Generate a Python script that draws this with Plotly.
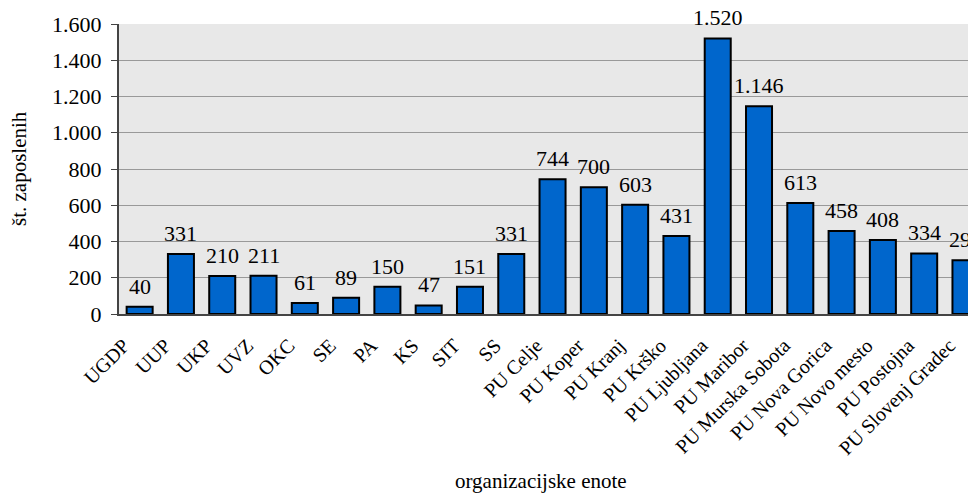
import plotly.graph_objects as go

categories = ["UGDP", "UUP", "UKP", "UVZ", "OKC", "SE", "PA", "KS", "SIT", "SS",
              "PU Celje", "PU Koper", "PU Kranj", "PU Krško", "PU Ljubljana",
              "PU Maribor", "PU Murska Sobota", "PU Nova Gorica", "PU Novo mesto",
              "PU Postojna", "PU Slovenj Gradec"]
values = [40, 331, 210, 211, 61, 89, 150, 47, 151, 331,
          744, 700, 603, 431, 1520, 1146, 613, 458, 408, 334, 296]
y_ticks = [0, 200, 400, 600, 800, 1000, 1200, 1400, 1600]
x_title = "organizacijske enote"
y_title = "št. zaposlenih"

FONT = "Liberation Serif"

# page body has an 8px margin, so the figure is drawn 8px right/down
W, H = 968, 485
L, T, B = 111, 16, 179
PW = W - L
PH = H - T - B


def fmt(v):
    return f"{v:,}".replace(",", ".")


fig = go.Figure()
fig.add_trace(go.Bar(
    x=categories, y=values,
    marker=dict(color="#0066CC", line=dict(color="#000000", width=2)),
    cliponaxis=True,
    hoverinfo="x+y",
))

for c, v in zip(categories, values):
    fig.add_annotation(
        x=c, y=v, xref="x", yref="y", text=fmt(v), showarrow=False,
        yanchor="bottom", xanchor="center", yshift=6,
        font=dict(family=FONT, size=22, color="#000000"),
    )

fig.add_annotation(
    x=(533 - L) / PW, y=-(473 - (T + PH)) / PH, xref="paper", yref="paper",
    text=x_title, showarrow=False, xanchor="center", yanchor="middle",
    font=dict(family=FONT, size=21, color="#000000"),
)
fig.add_annotation(
    x=(11 - L) / PW, y=0.5, xref="paper", yref="paper", text=y_title,
    textangle=-90, showarrow=False, xanchor="center", yanchor="middle",
    font=dict(family=FONT, size=21, color="#000000"),
)

fig.update_layout(
    width=W, height=H,
    margin=dict(l=L, r=0, t=T, b=B, pad=0),
    paper_bgcolor="#FFFFFF",
    plot_bgcolor="#E8E8E8",
    separators=",.",
    bargap=0.37,
    showlegend=False,
    font=dict(family=FONT, color="#000000"),
)

fig.update_xaxes(
    type="category",
    range=[-0.5, 20.255],
    tickangle=-45,
    tickfont=dict(family=FONT, size=20, color="#000000"),
    ticklabelshift=-16, ticklabelstandoff=10,
    showline=True, linecolor="#444444", linewidth=2,
    ticks="", showgrid=False, automargin=False,
)
fig.update_yaxes(
    range=[0, 1600],
    tickvals=y_ticks,
    tickformat=",d",
    tickfont=dict(family=FONT, size=22, color="#000000"),
    ticklabelstandoff=5,
    showline=True, linecolor="#444444", linewidth=2,
    ticks="outside", ticklen=6, tickcolor="#444444", tickwidth=1,
    showgrid=True, gridcolor="#999999", gridwidth=1,
    zeroline=False, automargin=False,
)

fig.write_html("out.html")
